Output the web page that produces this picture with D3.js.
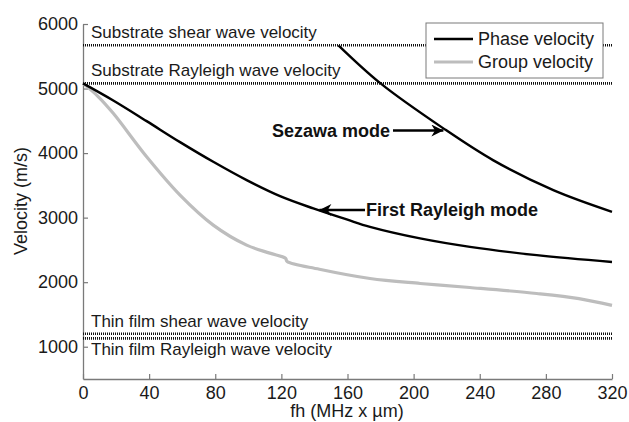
<!DOCTYPE html>
<html>
<head>
<meta charset="utf-8">
<script src="https://cdn.jsdelivr.net/npm/d3@7"></script>
<style>
  body { margin: 0; background: #fff; }
  svg { font-family: Arial, "Liberation Sans", sans-serif; }
</style>
</head>
<body>
<div id="chart"></div>
<script>
// fh (MHz x um) and velocity (m/s)
const phaseFh = [0, 18.3, 38.5, 58.7, 78.8, 99, 119.2, 139.3, 159.5, 173.6, 203.9, 234.1, 274.5, 320];
const phaseV = [5080, 4815, 4495, 4170, 3865, 3581, 3333, 3143, 2972, 2857, 2678, 2547, 2419, 2312];

const groupFh = [0, 9, 18.3, 38.5, 58.7, 78.8, 99, 113, 122.5, 123.5, 143, 173.6, 204, 234, 274.5, 300, 320];
const groupV = [5080, 4880, 4616, 3943, 3349, 2884, 2574, 2450, 2370, 2320, 2200, 2057, 1980, 1918, 1825, 1745, 1640];

const sezawaFh = [154.5, 180, 218, 248, 284.5, 320];
const sezawaV = [5670, 5080, 4383, 3891, 3426, 3090];

const refNames = ["Substrate shear wave velocity", "Substrate Rayleigh wave velocity",
  "Thin film shear wave velocity", "Thin film Rayleigh wave velocity"];
const refValues = [5670, 5080, 1200, 1130];

const xTicks = [0, 40, 80, 120, 160, 200, 240, 280, 320];
const yTicks = [1000, 2000, 3000, 4000, 5000, 6000];

const legendNames = ["Phase velocity", "Group velocity"];

const width = 629, height = 422;
const margin = { left: 83, right: 17, top: 24, bottom: 43 };

const svg = d3.select("#chart").append("svg")
  .attr("width", width)
  .attr("height", height);

const x = d3.scaleLinear().domain([0, 320]).range([margin.left, width - margin.right]);
const y = d3.scaleLinear().domain([500, 6000]).range([height - margin.bottom, margin.top]);

///////////////////////////////////////
// axes
///////////////////////////////////////
const xAxis = svg.append("g")
  .attr("transform", "translate(0," + (height - margin.bottom) + ")")
  .call(d3.axisBottom(x).tickValues(xTicks).tickFormat(d3.format("d"))
    .tickSize(-5).tickSizeOuter(0).tickPadding(7));
const yAxis = svg.append("g")
  .attr("transform", "translate(" + margin.left + ",0)")
  .call(d3.axisLeft(y).tickValues(yTicks).tickFormat(d3.format("d"))
    .tickSize(-5).tickSizeOuter(0).tickPadding(5));

[xAxis, yAxis].forEach(function (ax) {
  ax.select(".domain").attr("stroke", "#7a7a7a").attr("stroke-width", 1.3);
  ax.selectAll(".tick line").attr("stroke", "#7a7a7a").attr("stroke-width", 1.2);
  ax.selectAll(".tick text")
    .attr("font-size", 18)
    .attr("font-family", "Arial, 'Liberation Sans', sans-serif")
    .attr("fill", "#1a1a1a");
});
xAxis.selectAll(".tick text").attr("dy", "0.71em");

svg.append("text")
  .attr("x", 347)
  .attr("y", 417)
  .attr("text-anchor", "middle")
  .attr("font-size", 18)
  .attr("fill", "#1a1a1a")
  .text("fh (MHz x µm)");

svg.append("text")
  .attr("transform", "translate(27," + 201 + ") rotate(-90)")
  .attr("text-anchor", "middle")
  .attr("font-size", 18)
  .attr("fill", "#1a1a1a")
  .text("Velocity (m/s)");

///////////////////////////////////////
// reference lines
///////////////////////////////////////
svg.selectAll(".ref")
  .data(refValues)
  .enter().append("line")
  .attr("class", "ref")
  .attr("x1", x(0))
  .attr("x2", x(320))
  .attr("y1", function (d) { return y(d); })
  .attr("y2", function (d) { return y(d); })
  .attr("stroke", "#111")
  .attr("stroke-width", 2.6)
  .attr("stroke-dasharray", "1,1");

const refLabelDy = [-7, -7, -7, 17];
svg.selectAll(".refLabel")
  .data(refNames)
  .enter().append("text")
  .attr("class", "refLabel")
  .attr("x", x(0) + 8)
  .attr("y", function (d, i) { return y(refValues[i]) + refLabelDy[i]; })
  .attr("font-size", 17)
  .attr("fill", "#1a1a1a")
  .text(function (d) { return d; });

///////////////////////////////////////
// curves
///////////////////////////////////////
const smoothLine = d3.line()
  .x(function (d) { return x(d[0]); })
  .y(function (d) { return y(d[1]); })
  .curve(d3.curveCatmullRom.alpha(0.5));

svg.append("path")
  .datum(d3.zip(groupFh, groupV))
  .attr("fill", "none")
  .attr("stroke", "#bdbdbd")
  .attr("stroke-width", 3.2)
  .attr("d", smoothLine);

svg.append("path")
  .datum(d3.zip(phaseFh, phaseV))
  .attr("fill", "none")
  .attr("stroke", "#000")
  .attr("stroke-width", 2.4)
  .attr("d", smoothLine);

svg.append("path")
  .datum(d3.zip(sezawaFh, sezawaV))
  .attr("fill", "none")
  .attr("stroke", "#000")
  .attr("stroke-width", 2.4)
  .attr("d", smoothLine);

///////////////////////////////////////
// annotations
///////////////////////////////////////
svg.append("defs").append("marker")
  .attr("id", "arrow")
  .attr("viewBox", "0 0 10 10")
  .attr("refX", 10)
  .attr("refY", 5)
  .attr("markerWidth", 6)
  .attr("markerHeight", 5)
  .attr("markerUnits", "strokeWidth")
  .attr("orient", "auto")
  .append("path")
  .attr("d", "M0,0L10,5L0,10L3,5Z")
  .attr("fill", "#000");

const annotations = [
  { text: "Sezawa mode", tx: 272, ty: 137, x1: 393, y1: 130.5, fh: 218 },
  { text: "First Rayleigh mode", tx: 366, ty: 216, x1: 365, y1: 210, fh: 143 }
];

annotations.forEach(function (a) {
  svg.append("line")
    .attr("x1", a.x1)
    .attr("y1", a.y1)
    .attr("x2", x(a.fh))
    .attr("y2", a.y1)
    .attr("stroke", "#000")
    .attr("stroke-width", 2.4)
    .attr("marker-end", "url(#arrow)");
  svg.append("text")
    .attr("x", a.tx)
    .attr("y", a.ty)
    .attr("font-size", 18)
    .attr("font-weight", "bold")
    .attr("fill", "#111")
    .text(a.text);
});

///////////////////////////////////////
// legend
///////////////////////////////////////
const legend = svg.append("g").attr("transform", "translate(426,23)");
legend.append("rect")
  .attr("width", 177)
  .attr("height", 55)
  .attr("fill", "#fff")
  .attr("stroke", "#7a7a7a")
  .attr("stroke-width", 1);
const legendColors = ["#000", "#bdbdbd"];
legendNames.forEach(function (name, i) {
  legend.append("line")
    .attr("x1", 8)
    .attr("x2", 47)
    .attr("y1", 16 + i * 23)
    .attr("y2", 16 + i * 23)
    .attr("stroke", legendColors[i])
    .attr("stroke-width", i === 0 ? 2.4 : 3.2);
  legend.append("text")
    .attr("x", 52)
    .attr("y", 22 + i * 23)
    .attr("font-size", 18)
    .attr("fill", "#1a1a1a")
    .text(name);
});
</script>
</body>
</html>
